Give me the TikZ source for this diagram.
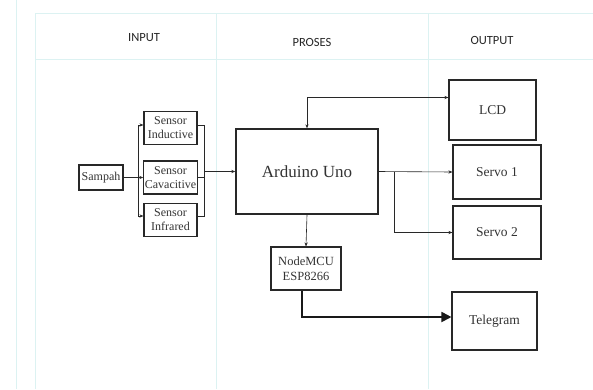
\documentclass[tikz,border=0pt]{standalone}
\usepackage{fontspec}
\setmainfont{Liberation Serif}
\newfontfamily\headfont{Carlito}
\usetikzlibrary{arrows.meta}
\definecolor{gridcyan}{RGB}{220,242,242}
\definecolor{linegray}{RGB}{40,40,40}

\begin{document}
\begin{tikzpicture}[x = 1pt, y = -1pt,
        box/.style = {draw=linegray, line width=1.1pt, align=center, inner sep=1pt, text=black!80},
        small/.style = {font=\fontsize{12}{14}\selectfont},
        mid/.style = {font=\fontsize{13.5}{15}\selectfont},
        head/.style = {font=\headfont\fontsize{12.5}{14}\selectfont, text=black!85},
        link/.style = {draw=linegray, line width=0.6pt, -{Stealth[length=4pt, width=3.2pt]}},
        plain/.style = {draw=linegray, line width=0.6pt}]
        \useasboundingbox (0, 0) rectangle (593, 389);
        % table
        \draw[gridcyan, line width=0.6pt] (16, 0) -- (16, 389);
        \draw[gridcyan, line width=0.6pt] (35, 13) -- (593, 13);
        \draw[gridcyan, line width=0.6pt] (35, 59) -- (593, 59);
        \draw[gridcyan, line width=0.6pt] (35, 13) -- (35, 389);
        \draw[gridcyan, line width=0.6pt] (216, 13) -- (216, 389);
        \draw[gridcyan, line width=0.6pt] (428, 13) -- (428, 389);
        \node[head] (hin) at (144, 38) {INPUT};
        \node[head] (hpro) at (312, 42) {PROSES};
        \node[head] (hout) at (492, 40) {OUTPUT};
        % boxes
        \node[box, small, line width=1.6pt, minimum width=44, minimum height=25] (sampah) at (101, 177.5) {Sampah};
        \node[box, small, minimum width=53, minimum height=33] (ind) at (170.5, 128) {Sensor\\Inductive};
        \node[box, small, minimum width=53, minimum height=33] (cav) at (170.5, 177.5) {Sensor\\Cavacitive};
        \node[box, small, minimum width=53, minimum height=33] (inf) at (170.5, 220) {Sensor\\Infrared};
        \node[box, font=\fontsize{17}{19}\selectfont, line width=1.4pt, minimum width=142, minimum height=85] (arduino) at (307, 171.5) {Arduino Uno};
        \node[box, mid, minimum width=87, minimum height=60] (lcd) at (492.5, 110) {LCD};
        \node[box, mid, minimum width=88, minimum height=54] (servo1) at (497, 172) {Servo 1};
        \node[box, mid, minimum width=88, minimum height=53] (servo2) at (497, 232.5) {Servo 2};
        \node[box, small, font=\fontsize{12.5}{15}\selectfont, minimum width=70, minimum height=43] (nodemcu) at (306, 268.5) {NodeMCU\\ESP8266};
        \node[box, mid, minimum width=85, minimum height=58] (telegram) at (494.5, 321) {Telegram};
        % input side
        \coordinate (split) at (138, 177.5);
        \coordinate (mergetop) at (204, 125);
        \coordinate (mergebot) at (204, 216);
        \draw[link] (sampah.east) -- (cav.west);
        \draw[link] (split) |- ([yshift=3pt]ind.west);
        \draw[link] (split) |- ([yshift=4pt]inf.west);
        \draw[plain] ([yshift=3pt]ind.east) -- (mergetop) -- (mergebot) -- ([yshift=4pt]inf.east);
        \draw[plain] (cav.east) -- (cav.east -| mergetop);
        \draw[link] (mergetop |- arduino.west) -- (arduino.west);
        % output side
        \coordinate (branch) at (394, 171.5);
        \draw[link, {Stealth[length=4pt, width=3.2pt]}-{Stealth[length=4pt, width=3.2pt]}] (arduino.north) |- ([yshift=12.5pt]lcd.west);
        \draw[link] (arduino.east) -- (servo1.west);
        \draw[link] (branch) |- (servo2.west);
        \draw[link] (arduino.south) -- (nodemcu.north);
        \draw[draw=black!90, line width=1.8pt, -{Triangle[length=10pt, width=10pt]}] ([xshift=-4pt]nodemcu.south) |- ([yshift=4pt]telegram.west);
    \end{tikzpicture}
\end{document}
